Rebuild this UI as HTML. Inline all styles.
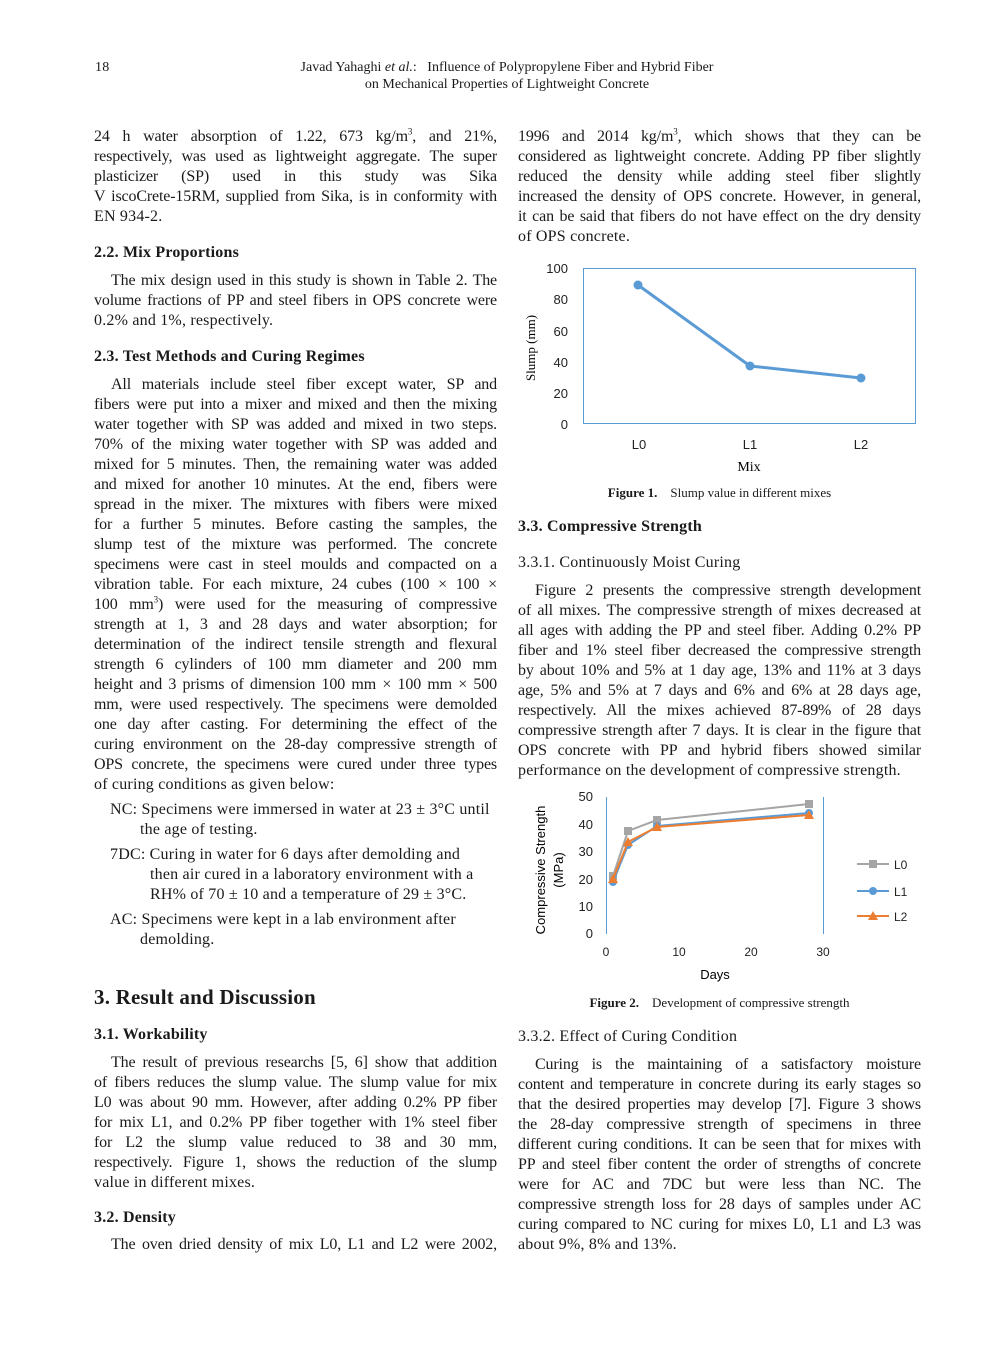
<!DOCTYPE html>
<html><head><meta charset="utf-8"><style>
body{margin:0;background:#fff;}
#p{position:relative;width:992px;height:1347px;overflow:hidden;font-family:"Liberation Serif",serif;color:#1a1a1a;font-size:16px;letter-spacing:0.2px;}
.l,.r,.f{position:absolute;line-height:20px;height:20px;white-space:nowrap;}
.l{left:94px;width:403px;}
.r{left:518px;width:403px;}
.j{text-align:justify;text-align-last:justify;white-space:normal;overflow:hidden;letter-spacing:-0.15px;}
.i{padding-left:17px;box-sizing:border-box;}
.b{font-weight:bold;}
.c{text-align:center;}
sup{font-size:9px;line-height:0;}
svg{position:absolute;left:0;top:0;}
svg text{font-family:"Liberation Sans",sans-serif;letter-spacing:0;}
</style></head><body><div id="p">
<div class="f" style="left:95px;top:58px;font-size:14px">18</div>
<div class="f c" style="left:207px;width:600px;top:58px;font-size:14px;letter-spacing:0">Javad Yahaghi <i>et al.</i>:&nbsp;&nbsp;&nbsp;Influence of Polypropylene Fiber and Hybrid Fiber</div>
<div class="f c" style="left:207px;width:600px;top:75px;font-size:14px;letter-spacing:0">on Mechanical Properties of Lightweight Concrete</div>

<div class="l j" style="top:127px">24 h water absorption of 1.22, 673 kg/m<sup>3</sup>, and 21%,</div>
<div class="l j" style="top:147px">respectively, was used as lightweight aggregate. The super</div>
<div class="l j" style="top:167px">plasticizer (SP) used in this study was Sika</div>
<div class="l j" style="top:187px">V iscoCrete-15RM, supplied from Sika, is in conformity with</div>
<div class="l" style="top:207px">EN 934-2.</div>
<div class="l b" style="top:243px">2.2. Mix Proportions</div>
<div class="l j i" style="top:271px">The mix design used in this study is shown in Table 2. The</div>
<div class="l j" style="top:291px">volume fractions of PP and steel fibers in OPS concrete were</div>
<div class="l" style="top:311px">0.2% and 1%, respectively.</div>
<div class="l b" style="top:347px">2.3. Test Methods and Curing Regimes</div>
<div class="l j i" style="top:375px">All materials include steel fiber except water, SP and</div>
<div class="l j" style="top:395px">fibers were put into a mixer and mixed and then the mixing</div>
<div class="l j" style="top:415px">water together with SP was added and mixed in two steps.</div>
<div class="l j" style="top:435px">70% of the mixing water together with SP was added and</div>
<div class="l j" style="top:455px">mixed for 5 minutes. Then, the remaining water was added</div>
<div class="l j" style="top:475px">and mixed for another 10 minutes. At the end, fibers were</div>
<div class="l j" style="top:495px">spread in the mixer. The mixtures with fibers were mixed</div>
<div class="l j" style="top:515px">for a further 5 minutes. Before casting the samples, the</div>
<div class="l j" style="top:535px">slump test of the mixture was performed. The concrete</div>
<div class="l j" style="top:555px">specimens were cast in steel moulds and compacted on a</div>
<div class="l j" style="top:575px">vibration table. For each mixture, 24 cubes (100 × 100 ×</div>
<div class="l j" style="top:595px">100 mm<sup>3</sup>) were used for the measuring of compressive</div>
<div class="l j" style="top:615px">strength at 1, 3 and 28 days and water absorption; for</div>
<div class="l j" style="top:635px">determination of the indirect tensile strength and flexural</div>
<div class="l j" style="top:655px">strength 6 cylinders of 100 mm diameter and 200 mm</div>
<div class="l j" style="top:675px">height and 3 prisms of dimension 100 mm × 100 mm × 500</div>
<div class="l j" style="top:695px">mm, were used respectively. The specimens were demolded</div>
<div class="l j" style="top:715px">one day after casting. For determining the effect of the</div>
<div class="l j" style="top:735px">curing environment on the 28-day compressive strength of</div>
<div class="l j" style="top:755px">OPS concrete, the specimens were cured under three types</div>
<div class="l" style="top:775px">of curing conditions as given below:</div>
<div class="f" style="left:110px;top:800px">NC: Specimens were immersed in water at 23 ± 3°C until</div>
<div class="f" style="left:140px;top:820px">the age of testing.</div>
<div class="f" style="left:110px;top:845px">7DC: Curing in water for 6 days after demolding and</div>
<div class="f" style="left:150px;top:865px">then air cured in a laboratory environment with a</div>
<div class="f" style="left:150px;top:885px">RH% of 70 ± 10 and a temperature of 29 ± 3°C.</div>
<div class="f" style="left:110px;top:910px">AC: Specimens were kept in a lab environment after</div>
<div class="f" style="left:140px;top:930px">demolding.</div>
<div class="l b" style="top:984px;font-size:21px;height:26px;line-height:26px">3. Result and Discussion</div>
<div class="l b" style="top:1025px">3.1. Workability</div>
<div class="l j i" style="top:1053px">The result of previous researchs [5, 6] show that addition</div>
<div class="l j" style="top:1073px">of fibers reduces the slump value. The slump value for mix</div>
<div class="l j" style="top:1093px">L0 was about 90 mm. However, after adding 0.2% PP fiber</div>
<div class="l j" style="top:1113px">for mix L1, and 0.2% PP fiber together with 1% steel fiber</div>
<div class="l j" style="top:1133px">for L2 the slump value reduced to 38 and 30 mm,</div>
<div class="l j" style="top:1153px">respectively. Figure 1, shows the reduction of the slump</div>
<div class="l" style="top:1173px">value in different mixes.</div>
<div class="l b" style="top:1208px">3.2. Density</div>
<div class="l j i" style="top:1235px">The oven dried density of mix L0, L1 and L2 were 2002,</div>

<div class="r j" style="top:127px">1996 and 2014 kg/m<sup>3</sup>, which shows that they can be</div>
<div class="r j" style="top:147px">considered as lightweight concrete. Adding PP fiber slightly</div>
<div class="r j" style="top:167px">reduced the density while adding steel fiber slightly</div>
<div class="r j" style="top:187px">increased the density of OPS concrete. However, in general,</div>
<div class="r j" style="top:207px">it can be said that fibers do not have effect on the dry density</div>
<div class="r" style="top:227px">of OPS concrete.</div>
<div class="f c" style="left:518px;width:403px;top:483px;font-size:13px;letter-spacing:0"><b>Figure 1.</b>&nbsp;&nbsp;&nbsp; Slump value in different mixes</div>
<div class="r b" style="top:517px">3.3. Compressive Strength</div>
<div class="r" style="top:553px">3.3.1. Continuously Moist Curing</div>
<div class="r j i" style="top:581px">Figure 2 presents the compressive strength development</div>
<div class="r j" style="top:601px">of all mixes. The compressive strength of mixes decreased at</div>
<div class="r j" style="top:621px">all ages with adding the PP and steel fiber. Adding 0.2% PP</div>
<div class="r j" style="top:641px">fiber and 1% steel fiber decreased the compressive strength</div>
<div class="r j" style="top:661px">by about 10% and 5% at 1 day age, 13% and 11% at 3 days</div>
<div class="r j" style="top:681px">age, 5% and 5% at 7 days and 6% and 6% at 28 days age,</div>
<div class="r j" style="top:701px">respectively. All the mixes achieved 87-89% of 28 days</div>
<div class="r j" style="top:721px">compressive strength after 7 days. It is clear in the figure that</div>
<div class="r j" style="top:741px">OPS concrete with PP and hybrid fibers showed similar</div>
<div class="r" style="top:761px">performance on the development of compressive strength.</div>
<div class="f c" style="left:518px;width:403px;top:993px;font-size:13px;letter-spacing:0"><b>Figure 2.</b>&nbsp;&nbsp;&nbsp; Development of compressive strength</div>
<div class="r" style="top:1027px">3.3.2. Effect of Curing Condition</div>
<div class="r j i" style="top:1055px">Curing is the maintaining of a satisfactory moisture</div>
<div class="r j" style="top:1075px">content and temperature in concrete during its early stages so</div>
<div class="r j" style="top:1095px">that the desired properties may develop [7]. Figure 3 shows</div>
<div class="r j" style="top:1115px">the 28-day compressive strength of specimens in three</div>
<div class="r j" style="top:1135px">different curing conditions. It can be seen that for mixes with</div>
<div class="r j" style="top:1155px">PP and steel fiber content the order of strengths of concrete</div>
<div class="r j" style="top:1175px">were for AC and 7DC but were less than NC. The</div>
<div class="r j" style="top:1195px">compressive strength loss for 28 days of samples under AC</div>
<div class="r j" style="top:1215px">curing compared to NC curing for mixes L0, L1 and L3 was</div>
<div class="r" style="top:1235px">about 9%, 8% and 13%.</div>

<svg width="992" height="1347">
<rect x="583.5" y="268.5" width="332" height="155" fill="none" stroke="#5b9bd5" stroke-width="1"/>
<g font-size="13" fill="#222" text-anchor="end">
<text x="568" y="273">100</text><text x="568" y="304">80</text><text x="568" y="336">60</text>
<text x="568" y="367">40</text><text x="568" y="398">20</text><text x="568" y="429">0</text>
</g>
<g font-size="13" fill="#222" text-anchor="middle">
<text x="639" y="449">L0</text><text x="750" y="449">L1</text><text x="861" y="449">L2</text>
</g>
<text x="749" y="471" font-size="14" text-anchor="middle" style="font-family:'Liberation Serif',serif">Mix</text>
<text transform="translate(535,348) rotate(-90)" font-size="13" text-anchor="middle" style="font-family:'Liberation Serif',serif">Slump (mm)</text>
<polyline points="638,285 750,366 861,378" fill="none" stroke="#5b9bd5" stroke-width="3"/>
<circle cx="638" cy="285" r="4.5" fill="#5b9bd5"/><circle cx="750" cy="366" r="4.5" fill="#5b9bd5"/><circle cx="861" cy="378" r="4.5" fill="#5b9bd5"/>

<line x1="606.5" y1="797" x2="606.5" y2="934" stroke="#5b9bd5"/>
<line x1="823.5" y1="797" x2="823.5" y2="934" stroke="#5b9bd5"/>
<g font-size="13" fill="#222" text-anchor="end">
<text x="593" y="801">50</text><text x="593" y="829">40</text><text x="593" y="856">30</text>
<text x="593" y="884">20</text><text x="593" y="911">10</text><text x="593" y="938">0</text>
</g>
<g font-size="12" fill="#222" text-anchor="middle">
<text x="606" y="956">0</text><text x="679" y="956">10</text><text x="751" y="956">20</text><text x="823" y="956">30</text>
</g>
<text x="715" y="979" font-size="13" text-anchor="middle">Days</text>
<text transform="translate(545,870) rotate(-90)" font-size="13" text-anchor="middle">Compressive Strength</text>
<text transform="translate(563,870) rotate(-90)" font-size="13" text-anchor="middle">(MPa)</text>
<polyline points="613,876 628,831 657,820 809,804" fill="none" stroke="#a5a5a5" stroke-width="2"/>
<g fill="#a5a5a5"><rect x="609" y="872" width="8" height="8"/><rect x="624" y="827" width="8" height="8"/><rect x="653" y="816" width="8" height="8"/><rect x="805" y="800" width="8" height="8"/></g>
<polyline points="613,882 628,845 657,826 809,813" fill="none" stroke="#5b9bd5" stroke-width="2"/>
<g fill="#5b9bd5"><circle cx="613" cy="882" r="4"/><circle cx="628" cy="845" r="4"/><circle cx="657" cy="826" r="4"/><circle cx="809" cy="813" r="4"/></g>
<polyline points="613,879 628,842 657,827 809,815" fill="none" stroke="#ed7d31" stroke-width="2"/>
<g fill="#ed7d31"><polygon points="613,874 618,883 608,883"/><polygon points="628,837 633,846 623,846"/><polygon points="657,822 662,831 652,831"/><polygon points="809,810 814,819 804,819"/></g>
<line x1="857" y1="864" x2="889" y2="864" stroke="#a5a5a5" stroke-width="2"/><rect x="869" y="860" width="8" height="8" fill="#a5a5a5"/>
<line x1="857" y1="891" x2="889" y2="891" stroke="#5b9bd5" stroke-width="2"/><circle cx="873" cy="891" r="4" fill="#5b9bd5"/>
<line x1="857" y1="916" x2="889" y2="916" stroke="#ed7d31" stroke-width="2"/><polygon points="873,911 878,920 868,920" fill="#ed7d31"/>
<g font-size="12" fill="#222"><text x="894" y="869">L0</text><text x="894" y="896">L1</text><text x="894" y="921">L2</text></g>
</svg>
</div></body></html>
